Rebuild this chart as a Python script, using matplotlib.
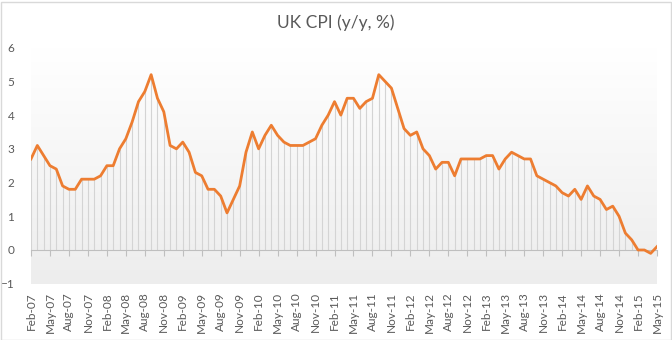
import numpy as np
import matplotlib.pyplot as plt
from matplotlib.patches import Rectangle

# UK CPI, year on year %, monthly Feb-07 .. May-15
months = []
for yr in range(7, 16):
    for m in ["Jan", "Feb", "Mar", "Apr", "May", "Jun", "Jul", "Aug", "Sep", "Oct", "Nov", "Dec"]:
        months.append("%s-%02d" % (m, yr))
months = months[1:months.index("May-15") + 1]

cpi_2007 = [2.7, 3.1, 2.8, 2.5, 2.4, 1.9, 1.8, 1.8, 2.1, 2.1, 2.1]
cpi_2008 = [2.2, 2.5, 2.5, 3.0, 3.3, 3.8, 4.4, 4.7, 5.2, 4.5, 4.1, 3.1]
cpi_2009 = [3.0, 3.2, 2.9, 2.3, 2.2, 1.8, 1.8, 1.6, 1.1, 1.5, 1.9, 2.9]
cpi_2010 = [3.5, 3.0, 3.4, 3.7, 3.4, 3.2, 3.1, 3.1, 3.1, 3.2, 3.3, 3.7]
cpi_2011 = [4.0, 4.4, 4.0, 4.5, 4.5, 4.2, 4.4, 4.5, 5.2, 5.0, 4.8, 4.2]
cpi_2012 = [3.6, 3.4, 3.5, 3.0, 2.8, 2.4, 2.6, 2.6, 2.2, 2.7, 2.7, 2.7]
cpi_2013 = [2.7, 2.8, 2.8, 2.4, 2.7, 2.9, 2.8, 2.7, 2.7, 2.2, 2.1, 2.0]
cpi_2014 = [1.9, 1.7, 1.6, 1.8, 1.5, 1.9, 1.6, 1.5, 1.2, 1.3, 1.0, 0.5]
cpi_2015 = [0.3, 0.0, 0.0, -0.1, 0.1]

cpi = np.array(cpi_2007 + cpi_2008 + cpi_2009 + cpi_2010 + cpi_2011
               + cpi_2012 + cpi_2013 + cpi_2014 + cpi_2015)
x = np.arange(len(cpi))
tick_idx = x[::3]
tick_labels = [months[i] for i in tick_idx]

plt.rcParams['font.family'] = ['Lato', 'DejaVu Sans']
txt = '#595959'

fig = plt.figure(figsize=(6.72, 3.40), dpi=100)
ax = fig.add_axes([31/672, 56.3/340, 626/672, 236/340])

# soft vertical gradient behind the plot
grad = np.linspace(0, 1, 256).reshape(-1, 1)
ax.imshow(grad, cmap=plt.matplotlib.colors.LinearSegmentedColormap.from_list(
    'bg', ['#ededed', '#ffffff']), aspect='auto', origin='lower',
    extent=[0, len(cpi) - 1, -1, 6], zorder=0)

ax.vlines(x, 0, cpi, color='#d4d4d4', lw=0.8, zorder=1)
ax.plot(x, cpi, color='#ED7D31', lw=2.0, zorder=3, solid_joinstyle='round')

ax.set_xlim(0, len(cpi) - 1)
ax.set_ylim(-1, 6)
ax.set_yticks(range(-1, 7))
ax.tick_params(axis='y', length=0, pad=12, labelsize=8.5, labelcolor=txt)

for s in ['top', 'right', 'left']:
    ax.spines[s].set_visible(False)
ax.spines['bottom'].set_position(('data', 0))
ax.spines['bottom'].set_color('#bfbfbf')
ax.spines['bottom'].set_linewidth(0.8)
ax.set_xticks(tick_idx)
ax.tick_params(axis='x', length=4, color='#bfbfbf', width=0.8, labelbottom=False)

sec = ax.secondary_xaxis('bottom')
sec.set_xticks(tick_idx, tick_labels, rotation=90)
sec.tick_params(length=0, pad=6, labelsize=8.5, labelcolor=txt)
sec.spines['bottom'].set_visible(False)

fig.text(0.5, 1 - 23/340, 'UK CPI (y/y, %)', ha='center', va='center',
         fontsize=12.5, color=txt)

fig.patches.append(Rectangle((0.5/672, 0.5/340), 670/672, 338/340, transform=fig.transFigure,
                             fill=False, edgecolor='#d9d9d9', lw=1))

fig.savefig('out.png', dpi=100)
